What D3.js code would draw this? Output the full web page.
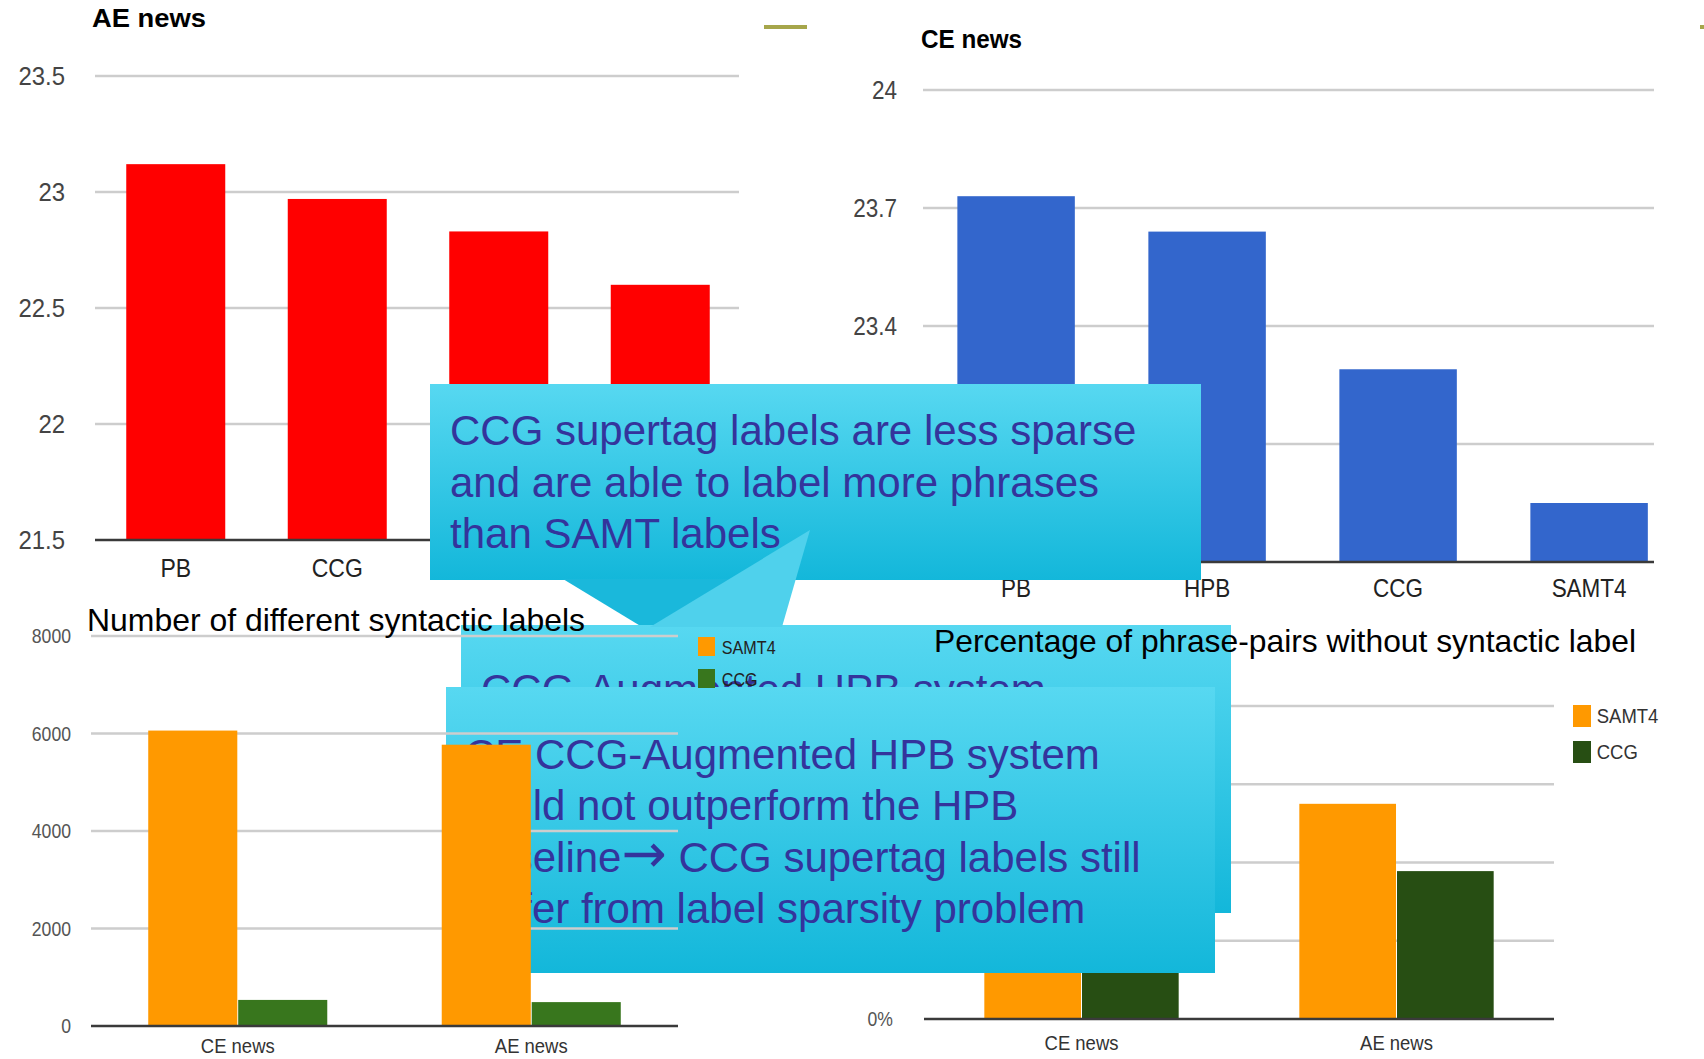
<!DOCTYPE html>
<html lang="en">
<head>
<meta charset="UTF-8">
<title>CCG labels</title>
<script src="https://cdn.jsdelivr.net/npm/d3@7"></script>
<style>
body { margin: 0; background: #fff; }
svg { display: block; font-family: "Liberation Sans", Arial, sans-serif; }
</style>
</head>
<body>
<div id="output"></div>
<script>

// BLEU, AE news
var aeSystems = ["PB", "CCG", "HPB", "SAMT4"];
var aeBleu = [23.12, 22.97, 22.83, 22.60];
var aeTicks = [21.5, 22, 22.5, 23, 23.5];

// BLEU, CE news
var ceSystems = ["PB", "HPB", "CCG", "SAMT4"];
var ceBleu = [23.73, 23.64, 23.29, 22.95];
var ceTicks = [22.8, 23.1, 23.4, 23.7, 24];

// label statistics
var corpora = ["CE news", "AE news"];
var labelTypes = ["SAMT4", "CCG"];
var samtLabelCount = [6060, 5770];
var ccgLabelCount = [535, 490];
var countTicks = [0, 2000, 4000, 6000, 8000];
var samtUnlabelled = [30.2, 27.5];
var ccgUnlabelled = [24.5, 18.9];
var pctTicks = [0, 10, 20, 30, 40];

var calloutTop = ["CCG supertag labels are less sparse",
                  "and are able to label more phrases",
                  "than SAMT labels"];
var calloutMid = ["CCG-Augmented HPB system"];
var calloutLow = ["CE CCG-Augmented HPB system",
                  "could not outperform the HPB",
                  "baseline\u2192 CCG supertag labels still",
                  "suffer from label sparsity problem"];

var w = 1704;
var h = 1059;
var svg = d3.select("#output")
    .append("svg")
    .attr("width", w)
    .attr("height", h);

var defs = svg.append("defs");
function grad(id, c0, c1) {
    var g = defs.append("linearGradient").attr("id", id)
        .attr("x1", 0).attr("y1", 0).attr("x2", 0).attr("y2", 1);
    g.append("stop").attr("offset", "0%").attr("stop-color", c0);
    g.append("stop").attr("offset", "100%").attr("stop-color", c1);
}
grad("callout", "#57d8f1", "#13b7da");

// gridlines + tick labels on the left
function yAxis(g, y, ticks, gx, labelX, fmt, size, fill, sx) {
    g.selectAll("line.grid").data(ticks.slice(1)).enter()
        .append("line").attr("class", "grid")
        .attr("x1", gx[0]).attr("x2", gx[1])
        .attr("y1", y).attr("y2", y)
        .attr("stroke", "#cdcdcd").attr("stroke-width", 2.5);
    var ax = g.append("g")
        .attr("transform", "translate(" + labelX + ",0)")
        .call(d3.axisLeft(y).tickValues(ticks).tickSize(0).tickPadding(0).tickFormat(fmt));
    ax.select(".domain").remove();
    ax.selectAll("text")
        .attr("font-size", size).attr("fill", fill)
        .attr("font-family", "'Liberation Sans', Arial, sans-serif")
        .attr("transform", "scale(" + sx + ",1)");
}

function xAxis(g, x, yPos, size, fill, sx) {
    var ax = g.append("g")
        .attr("transform", "translate(0," + yPos + ")")
        .call(d3.axisBottom(x).tickSize(0).tickPadding(0));
    ax.select(".domain").remove();
    ax.selectAll("text")
        .attr("dy", "0.35em")
        .attr("font-size", size).attr("fill", fill)
        .attr("font-family", "'Liberation Sans', Arial, sans-serif")
        .attr("transform", "scale(" + sx + ",1)");
}

function baseline(g, x0, x1, yv) {
    g.append("line").attr("x1", x0).attr("x2", x1)
        .attr("y1", yv).attr("y2", yv)
        .attr("stroke", "#3a3a3a").attr("stroke-width", 2.5);
}

// ---------- top left: AE news ----------
var ae = svg.append("g");
var xAe = d3.scaleBand().domain(aeSystems).range([95, 741]).paddingInner(0.387).paddingOuter(0.1935);
var yAe = d3.scaleLinear().domain([21.5, 23.5]).range([540, 76]);
yAxis(ae, yAe, aeTicks, [95, 739], 65, String, 26, "#444", 0.92);
ae.selectAll("rect.bar").data(aeBleu).enter().append("rect")
    .attr("x", function(d, i) { return xAe(aeSystems[i]); })
    .attr("width", xAe.bandwidth())
    .attr("y", function(d) { return yAe(d); })
    .attr("height", function(d) { return yAe(21.5) - yAe(d); })
    .attr("fill", "#ff0000");
baseline(ae, 95, 739, yAe(21.5));
xAxis(ae, xAe, 568, 25, "#222", 0.92);
ae.append("text").attr("x", 92).attr("y", 27)
    .attr("font-size", 25).attr("font-weight", "bold")
    .attr("textLength", 114).attr("lengthAdjust", "spacingAndGlyphs")
    .text("AE news");

// ---------- top right: CE news ----------
var ce = svg.append("g");
var xCe = d3.scaleBand().domain(ceSystems).range([920.6, 1684.6]).paddingInner(0.385).paddingOuter(0.1925);
var yCe = d3.scaleLinear().domain([22.8, 24]).range([562, 90]);
yAxis(ce, yCe, ceTicks, [923, 1654], 897, String, 25, "#444", 0.9);
ce.selectAll("rect.bar").data(ceBleu).enter().append("rect")
    .attr("x", function(d, i) { return xCe(ceSystems[i]); })
    .attr("width", xCe.bandwidth())
    .attr("y", function(d) { return yCe(d); })
    .attr("height", function(d) { return yCe(22.8) - yCe(d); })
    .attr("fill", "#3366cc");
baseline(ce, 923, 1654, yCe(22.8));
xAxis(ce, xCe, 588, 25, "#222", 0.9);
ce.append("text").attr("x", 921).attr("y", 48)
    .attr("font-size", 25).attr("font-weight", "bold")
    .attr("textLength", 101).attr("lengthAdjust", "spacingAndGlyphs")
    .text("CE news");

// olive slide markers
svg.append("rect").attr("x", 764).attr("y", 25).attr("width", 43).attr("height", 4).attr("fill", "#a6a64b");
svg.append("rect").attr("x", 1700).attr("y", 25).attr("width", 4).attr("height", 4).attr("fill", "#a6a64b");

// ---------- bottom right: unlabelled phrase pairs ----------
var pc = svg.append("g");
var xPc = d3.scaleBand().domain(corpora).range([924, 1554]).paddingInner(0.383).paddingOuter(0.1915);
var xPcIn = d3.scaleBand().domain(labelTypes).range([0, xPc.bandwidth()]).paddingInner(0.01);
var yPc = d3.scaleLinear().domain([0, 40]).range([1019, 706]);
yAxis(pc, yPc, pctTicks, [924, 1554], 893, function(d) { return d + "%"; }, 20, "#555", 0.88);
var pcSeries = [samtUnlabelled, ccgUnlabelled];
var pcColors = ["#ff9900", "#274e13"];
pcSeries.forEach(function(vals, s) {
    pc.selectAll("rect.s" + s).data(vals).enter().append("rect")
        .attr("x", function(d, i) { return xPc(corpora[i]) + xPcIn(labelTypes[s]); })
        .attr("width", xPcIn.bandwidth())
        .attr("y", function(d) { return yPc(d); })
        .attr("height", function(d) { return yPc(0) - yPc(d); })
        .attr("fill", pcColors[s]);
});
baseline(pc, 924, 1554, yPc(0));
xAxis(pc, xPc, 1043, 21, "#333", 0.88);
var pcLeg = pc.selectAll("g.leg").data(labelTypes).enter().append("g")
    .attr("transform", function(d, i) { return "translate(1573," + (705 + i * 36) + ")"; });
pcLeg.append("rect").attr("width", 18).attr("height", 22)
    .attr("fill", function(d, i) { return pcColors[i]; });
pcLeg.append("text").attr("x", 27).attr("y", 11).attr("dy", "0.35em")
    .attr("font-size", 21).attr("fill", "#333")
    .attr("transform", "scale(0.88,1)")
    .text(function(d) { return d; });

// ---------- callouts ----------
function callout(box, ptr, ptrFill, lines, tx, ty, lh) {
    var g = svg.append("g");
    g.append("rect").attr("x", box[0]).attr("y", box[1])
        .attr("width", box[2] - box[0]).attr("height", box[3] - box[1])
        .attr("fill", "url(#callout)");
    if (ptr) {
        g.append("polygon").attr("points", ptr.map(function(p) { return p.join(","); }).join(" "))
            .attr("fill", ptrFill);
    }
    var t = g.selectAll("text").data(lines).enter().append("text")
        .attr("x", tx).attr("y", function(d, i) { return ty + i * lh; })
        .attr("font-size", 42).attr("fill", "#34349c");
    // the arrow glyph comes from a symbol font in the original: keep it large
    t.each(function(d) {
        var parts = d.split("\u2192");
        var el = d3.select(this);
        parts.forEach(function(p, k) {
            if (k > 0) {
                el.append("tspan").attr("font-family", "'DejaVu Sans', sans-serif")
                    .attr("font-size", 54).text("\u2192");
            }
            el.append("tspan").text(p);
        });
    });
    return g;
}

callout([430, 384, 1201, 580], [[563, 579], [652, 633], [765, 579]], "#1ab8db",
        calloutTop, 450, 445, 51.5);
callout([461, 625, 1231, 913], [[650, 627], [810, 530], [782, 627]], "#4fd1ec",
        calloutMid, 481, 704, 51.5);

// title of the bottom right chart sits over the middle callout
svg.append("text").attr("x", 934).attr("y", 652)
    .attr("font-size", 32).attr("fill", "#000")
    .attr("textLength", 702).attr("lengthAdjust", "spacingAndGlyphs")
    .text("Percentage of phrase-pairs without syntactic label");

callout([446, 687, 1215, 973], null, null, calloutLow, 465, 769, 51.3);

// ---------- bottom left: label counts (drawn on top) ----------
var lc = svg.append("g");
var xLc = d3.scaleBand().domain(corpora).range([91, 678]).paddingInner(0.39).paddingOuter(0.195);
var xLcIn = d3.scaleBand().domain(labelTypes).range([0, xLc.bandwidth()]).paddingInner(0.01);
var yLc = d3.scaleLinear().domain([0, 8000]).range([1026, 636]);
yAxis(lc, yLc, countTicks, [91, 678], 71, String, 21, "#555", 0.84);
var lcSeries = [samtLabelCount, ccgLabelCount];
var lcColors = ["#ff9900", "#38761d"];
lcSeries.forEach(function(vals, s) {
    lc.selectAll("rect.s" + s).data(vals).enter().append("rect")
        .attr("x", function(d, i) { return xLc(corpora[i]) + xLcIn(labelTypes[s]); })
        .attr("width", xLcIn.bandwidth())
        .attr("y", function(d) { return yLc(d); })
        .attr("height", function(d) { return yLc(0) - yLc(d); })
        .attr("fill", lcColors[s]);
});
baseline(lc, 91, 678, yLc(0));
xAxis(lc, xLc, 1046, 21, "#333", 0.88);
lc.append("text").attr("x", 87).attr("y", 631)
    .attr("font-size", 32).attr("fill", "#000")
    .attr("textLength", 498).attr("lengthAdjust", "spacingAndGlyphs")
    .text("Number of different syntactic labels");
var lcLeg = lc.selectAll("g.leg").data(labelTypes).enter().append("g")
    .attr("transform", function(d, i) { return "translate(698," + (637 + i * 32) + ")"; });
lcLeg.append("rect").attr("width", 17).attr("height", 19)
    .attr("fill", function(d, i) { return lcColors[i]; });
lcLeg.append("text").attr("x", 28).attr("y", 10).attr("dy", "0.35em")
    .attr("font-size", 19).attr("fill", "#222")
    .attr("transform", "scale(0.85,1)")
    .text(function(d) { return d; });

</script>
</body>
</html>
